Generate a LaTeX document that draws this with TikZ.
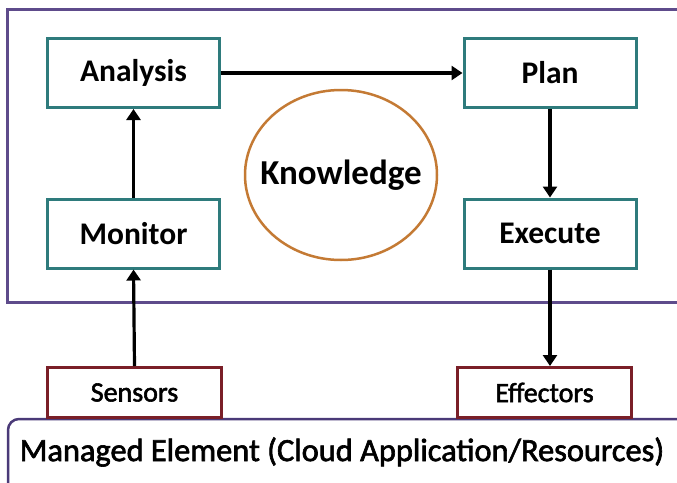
\documentclass[tikz,border=0pt]{standalone}
\usepackage{fontspec}
\setmainfont{Carlito}
\newfontfamily\mediumface[FakeBold=2]{Carlito}
\usetikzlibrary{arrows.meta,shapes.geometric}
\definecolor{loopframe}{HTML}{5E4B8B}
\definecolor{stagebox}{HTML}{2E7B7C}
\definecolor{knowring}{HTML}{C47A34}
\definecolor{portbox}{HTML}{7A1F28}
\definecolor{elemframe}{HTML}{4A3A78}
\tikzset{
  stage/.style={draw=stagebox, line width=3pt, fill=white, minimum width=172pt,
    minimum height=69pt, inner sep=0pt, font=\fontsize{31.5}{31.5}\selectfont\bfseries},
  port/.style={draw=portbox, line width=3pt, fill=white, minimum width=174pt,
    minimum height=50pt, inner sep=0pt, font=\mediumface\fontsize{28}{28}\selectfont},
  flow/.style={draw=black, line width=3.2pt, -{Triangle[length=11pt,width=14pt]}},
}
\begin{document}
\begin{tikzpicture}[x=1pt, y=-1pt]
  \useasboundingbox (0,0) rectangle (677,482);
  \fill[white] (0,0) rectangle (677,482);

  % autonomic manager frame (runs past the right edge)
  \draw[loopframe, line width=3pt] (690,9) -- (7,9) -- (7,302) -- (690,302);

  % managed element at the bottom (runs past the right and lower edges)
  \draw[elemframe, line width=2.5pt, rounded corners=11pt]
    (690,419) -- (8,419) -- (8,500);
  \node (me) at (342,452) {\mediumface\fontsize{32.4}{32.4}\selectfont Managed Element (Cloud Application/Resources)};

  % MAPE-K stages
  \node[stage] (an) at (133.5,73) {Analysis};
  \node[stage] (mo) at (133.5,233.5) {Monitor};
  \node[stage] (pl) at (550,73) {Plan};
  \node[stage] (ex) at (550,233.5) {Execute};

  % shared knowledge
  \node[draw=knowring, line width=2.5pt, ellipse, minimum width=192pt, minimum height=170pt,
    inner sep=0pt] (kn) at (341,175) {};
  \node[font=\fontsize{35}{35}\selectfont\bfseries] (knt) at (kn.center) {Knowledge};

  % touch points
  \node[port] (se) at (134.5,392.5) {Sensors};
  \node[port] (ef) at (544.5,392.5) {Effectors};

  % control loop
  \draw[flow] (mo.north) -- (an.south);
  \draw[flow] (an.east) -- (pl.west);
  \draw[flow] (pl.south) -- (ex.north);
  \draw[flow] (se.north) -- (mo.south);
  \draw[flow] (ex.south) -- (ex.south |- ef.north);
\end{tikzpicture}
\end{document}
